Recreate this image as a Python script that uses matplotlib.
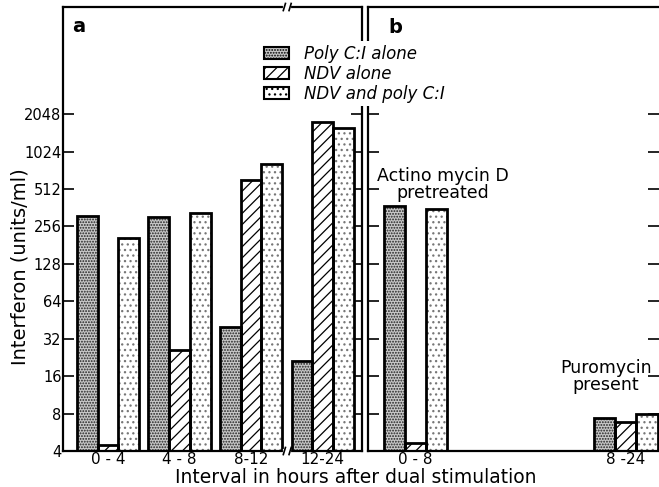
import numpy as np
import matplotlib
matplotlib.use('Agg')
import matplotlib.pyplot as plt
from matplotlib.patches import Patch

# === DATA ===
groups_a = ['0 - 4', '4 - 8', '8-12', '12-24']
poly_a = [310, 305, 40, 21]
ndv_a = [4.5, 26, 607, 1760]
both_a = [206, 327, 810, 1575]

groups_b = ['0 - 8', '8 -24']
poly_b = [371, 7.4]
ndv_b = [4.6, 6.9]
both_b = [352, 7.9]

yticks = [4, 8, 16, 32, 64, 128, 256, 512, 1024, 2048]
series_labels = ['Poly C:I alone', 'NDV alone', 'NDV and poly C:I']

# === STYLE ===
plt.rcParams['font.family'] = ['DejaVu Sans']
plt.rcParams['hatch.linewidth'] = 0.9
# fill, hatch, hatch colour
styles = [
    ('#c8c8c8', '......', '#222222'),
    ('white', '///', 'black'),
    ('white', '...', '#777777'),
]
EDGE_LW = 2.0
YMIN, YMAX = 4, 14870

fig = plt.figure(figsize=(6.59, 4.87), dpi=100)
ax1 = fig.add_axes([0.0956, 0.0739, 0.4537, 0.9117])
ax2 = fig.add_axes([0.5584, 0.0739, 0.4416, 0.9117])


def draw_panel(ax, groups, values, width):
    x = np.arange(len(groups))
    for i, (vals, (fc, hatch, hc)) in enumerate(zip(values, styles)):
        xi = x + (i - 1) * width
        # hatch layer, then black outline on top
        ax.bar(xi, vals, width, facecolor=fc, hatch=hatch, edgecolor=hc,
               linewidth=0, zorder=2)
        ax.bar(xi, vals, width, fill=False, edgecolor='black',
               linewidth=EDGE_LW, zorder=3)
    ax.set_yscale('log', base=2)
    ax.set_ylim(YMIN, YMAX)
    ax.set_yticks(yticks)
    ax.minorticks_off()
    ax.set_xticks(x)
    ax.set_xticklabels(groups, fontsize=11)
    ax.tick_params(axis='x', length=0, pad=1)
    ax.tick_params(axis='y', direction='in', length=8, width=1.2,
                   left=True, right=True, pad=1)
    for s in ax.spines.values():
        s.set_linewidth(1.6)


# --- panel a ---
draw_panel(ax1, groups_a, [poly_a, ndv_a, both_a], 0.29)
ax1.set_xlim(-0.63, 3.55)
ax1.set_yticklabels([str(t) for t in yticks], fontsize=10.5)
ax1.text(0.03, 0.978, 'a', transform=ax1.transAxes, fontsize=14,
         fontweight='bold', va='top')

# axis breaks between 8-12 and 12-24
for yb in (0.0, 1.0):
    ax1.plot([2.47, 2.53], [yb, yb], color='white', lw=3,
             transform=ax1.get_xaxis_transform(), clip_on=False, zorder=5)
    for xb in (2.45, 2.53):
        ax1.plot([xb, xb + 0.03], [yb - 0.008, yb + 0.008], color='black',
                 lw=1.2, transform=ax1.get_xaxis_transform(),
                 clip_on=False, zorder=6)

# --- panel b ---
draw_panel(ax2, groups_b, [poly_b, ndv_b, both_b], 0.1)
ax2.set_xlim(-0.224, 1.157)
ax2.set_yticklabels([])
ax2.spines['right'].set_visible(False)
ax2.text(0.07, 0.975, 'b', transform=ax2.transAxes, fontsize=14,
         fontweight='bold', va='top')
ax2.text(0.13, 400, 'Actino mycin D\npretreated', fontsize=12.5,
         ha='center', va='bottom', linespacing=0.95)
ax2.text(0.905, 11.5, 'Puromycin\npresent', fontsize=12.5,
         ha='center', va='bottom', linespacing=0.95)

fig.text(0.54, 0.008, 'Interval in hours after dual stimulation',
         ha='center', va='baseline', fontsize=13.5)
fig.text(0.03, 1 - 267 / 487, 'Interferon (units/ml)', rotation=90,
         ha='center', va='center', fontsize=14)

# legend
handles = [Patch(facecolor=fc, hatch=hatch, edgecolor='black', linewidth=1.5)
           for fc, hatch, hc in styles]
leg = fig.legend(handles, series_labels, loc='upper left',
                 bbox_to_anchor=(0.395, 0.915), frameon=True,
                 prop={'style': 'italic', 'size': 12},
                 handlelength=1.5, handleheight=0.75, handletextpad=0.9,
                 labelspacing=0.12, borderpad=0.2, borderaxespad=0)
leg.get_frame().set_edgecolor('none')
leg.get_frame().set_facecolor('white')
leg.get_frame().set_alpha(1)
leg.set_zorder(10)

fig.savefig('out.png', dpi=100)
